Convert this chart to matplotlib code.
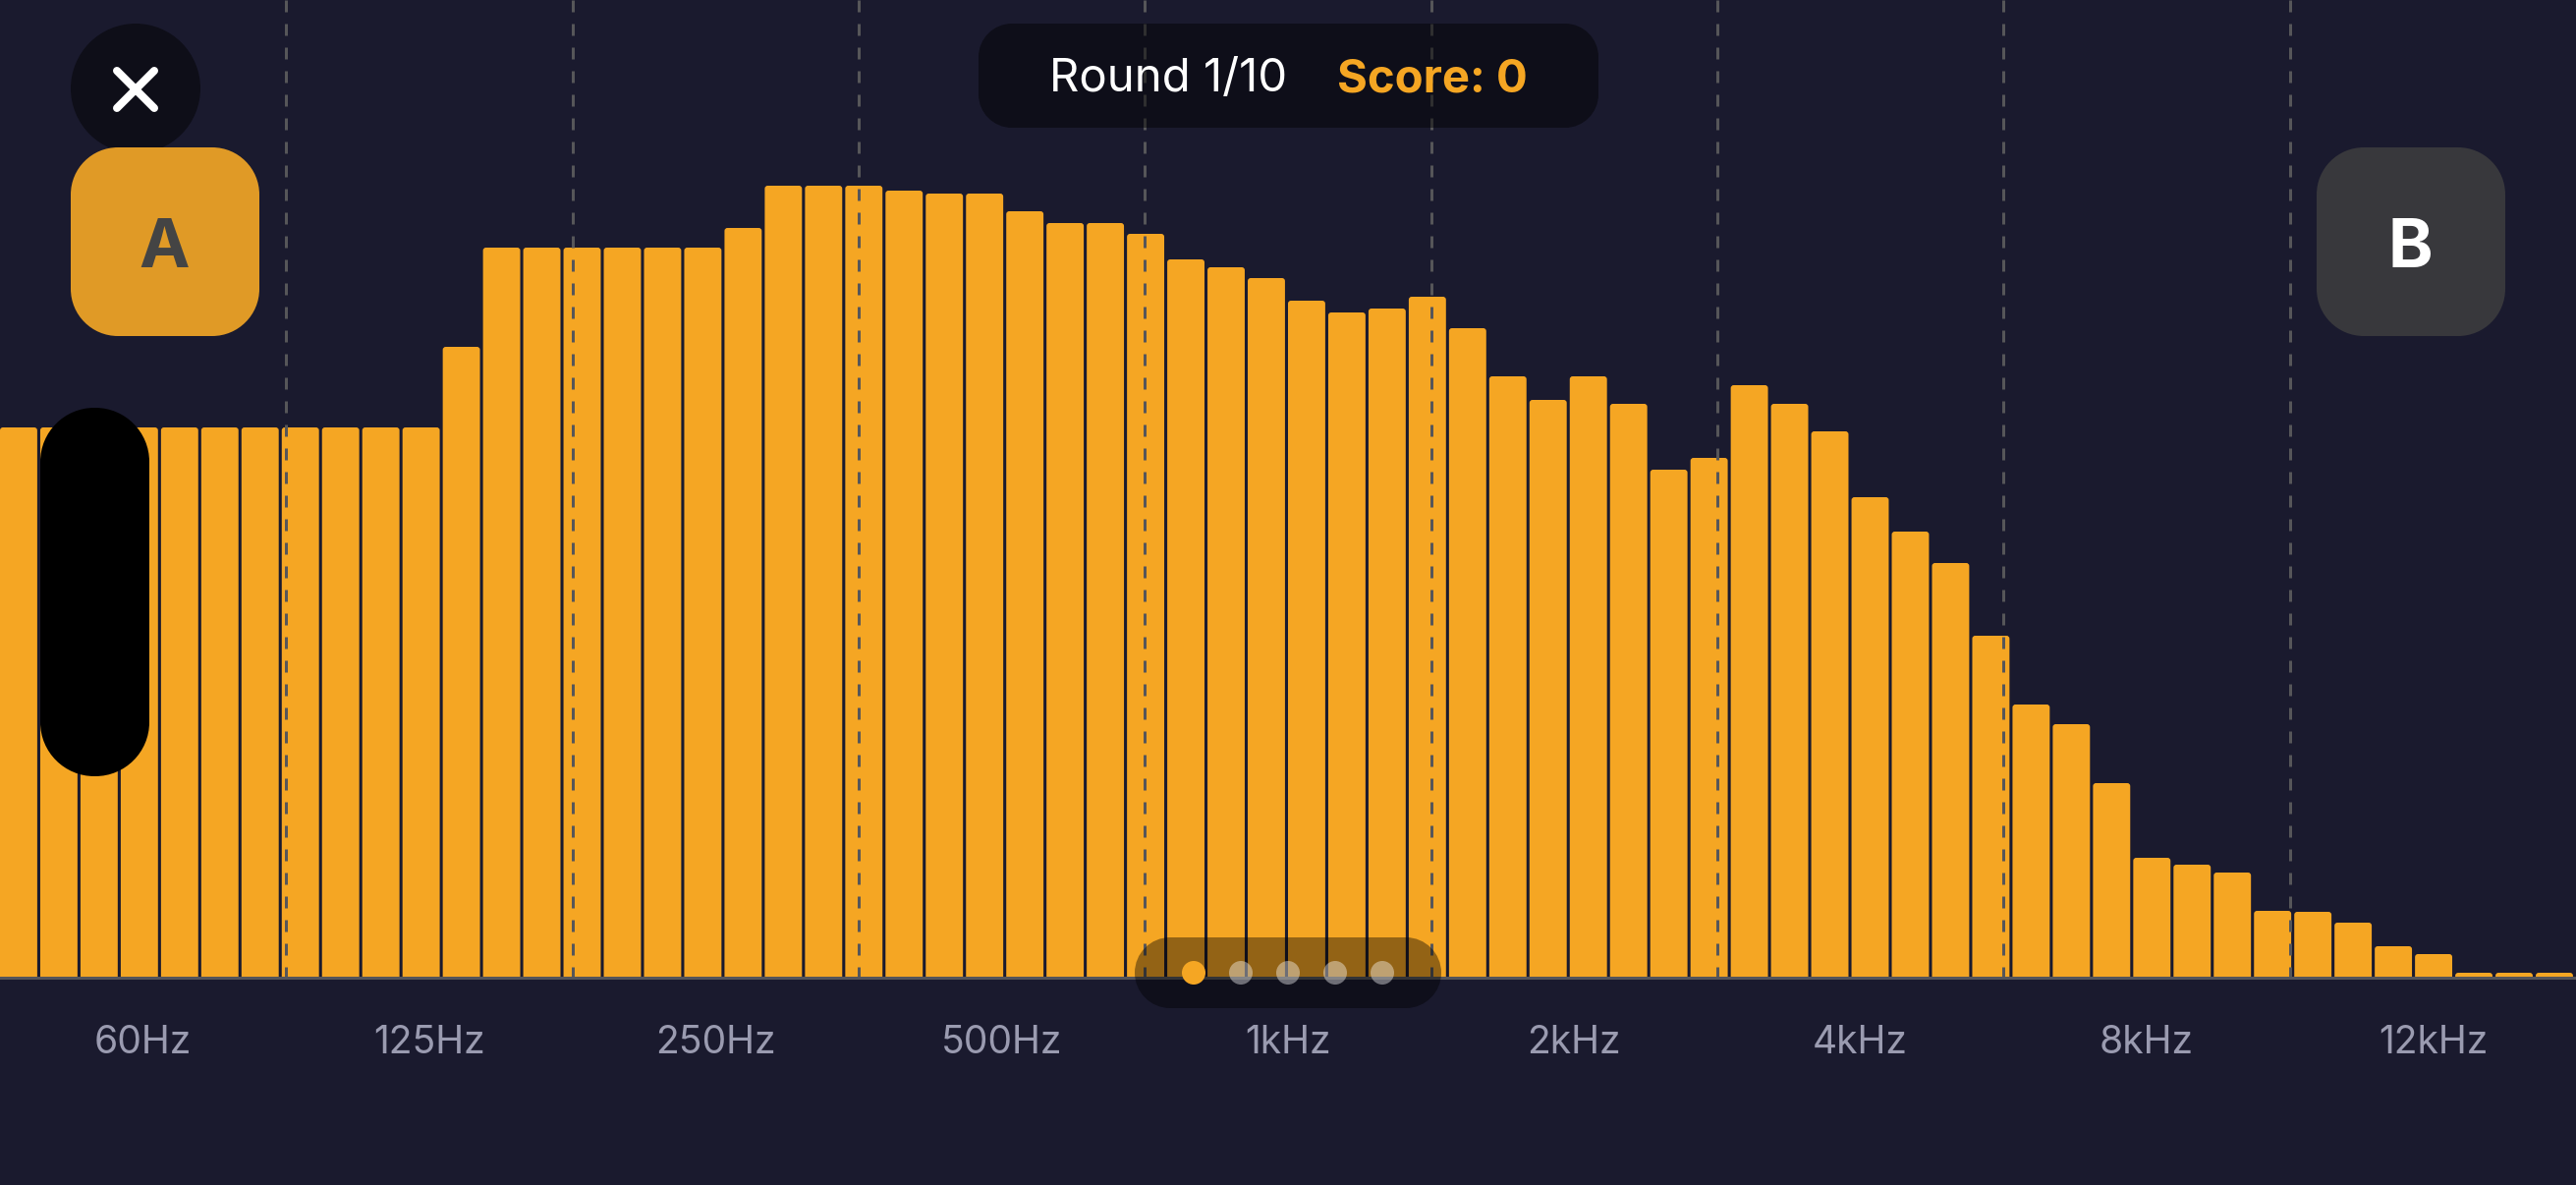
import matplotlib
matplotlib.use("Agg")
import matplotlib.pyplot as plt
from matplotlib.patches import FancyBboxPatch, Circle, PathPatch
from matplotlib.path import Path

W, H = 2622, 1206
BG = "#1a1a2e"
ORANGE = "#f5a623"

levels = [560, 560, 560, 560, 560, 560, 560, 560, 560, 560, 560, 642,
          743, 743, 743, 743, 743, 743, 763, 806, 806, 806, 801, 798,
          798, 780, 768, 768, 757, 731, 723, 712, 689, 677, 681, 693,
          661, 612, 588, 612, 584, 517, 529, 603, 584, 556, 489, 454,
          422, 348, 278, 258, 198, 122, 115, 107, 68, 67, 56, 32,
          24, 5, 5, 5]
band_labels = ["60Hz", "125Hz", "250Hz", "500Hz", "1kHz", "2kHz", "4kHz", "8kHz", "12kHz"]
round_text = "Round 1/10"
score_text = "Score: 0"

plt.rcParams["font.family"] = ["Inter", "DejaVu Sans"]
px = 72 / 100

fig = plt.figure(figsize=(W / 100, H / 100), dpi=100, facecolor=BG)
BASE = 995
ax = fig.add_axes([0, (H - BASE) / H, 1, BASE / H], facecolor=BG)
n = len(levels)
ax.set_xlim(0, n)
ax.set_ylim(0, BASE)
for s in ax.spines.values():
    s.set_visible(False)
ax.set_yticks([])

unit = W / n  # pixels per bar slot
for i, v in enumerate(levels):
    ax.add_patch(FancyBboxPatch((i, -8), 0.925, v + 8,
                                boxstyle=f"round,pad=0,rounding_size={3 / unit}",
                                mutation_aspect=unit, fc=ORANGE, ec="none", zorder=2))

nb = len(band_labels)
for i in range(1, nb):
    ax.plot([i * n / nb] * 2, [BASE, 0], color="#565659", lw=3 * px,
            dashes=(4, 4), dash_capstyle="butt", zorder=3)
ax.axhline(0, color="#55555a", lw=3 * px, clip_on=False, zorder=4)

ax.set_xticks([(i + 0.5) * n / nb for i in range(nb)])
ax.set_xticklabels(band_labels, fontsize=39 * px, color="#9a9bb0")
ax.tick_params(axis="x", length=0, pad=48 * px)

# interface overlay in pixel coordinates
ui = fig.add_axes([0, 0, 1, 1], facecolor="none")
ui.set_xlim(0, W)
ui.set_ylim(H, 0)
ui.axis("off")


def rbox(x0, y0, x1, y1, r, **kw):
    k = r * 0.4477
    verts = [(x0 + r, y0), (x1 - r, y0),
             (x1 - k, y0), (x1, y0 + k), (x1, y0 + r),
             (x1, y1 - r),
             (x1, y1 - k), (x1 - k, y1), (x1 - r, y1),
             (x0 + r, y1),
             (x0 + k, y1), (x0, y1 - k), (x0, y1 - r),
             (x0, y0 + r),
             (x0, y0 + k), (x0 + k, y0), (x0 + r, y0),
             (x0 + r, y0)]
    codes = [Path.MOVETO, Path.LINETO,
             Path.CURVE4, Path.CURVE4, Path.CURVE4,
             Path.LINETO,
             Path.CURVE4, Path.CURVE4, Path.CURVE4,
             Path.LINETO,
             Path.CURVE4, Path.CURVE4, Path.CURVE4,
             Path.LINETO,
             Path.CURVE4, Path.CURVE4, Path.CURVE4,
             Path.CLOSEPOLY]
    ui.add_patch(PathPatch(Path(verts, codes), ec="none", **kw))


ui.add_patch(Circle((138, 90), 66, fc="#0e0e18", ec="none", zorder=1))
ui.plot([119, 157], [72, 110], color="white", lw=8 * px, solid_capstyle="round", zorder=2)
ui.plot([119, 157], [110, 72], color="white", lw=8 * px, solid_capstyle="round", zorder=2)

rbox(72, 150, 264, 342, 48, fc="#e09a26", zorder=3)
ui.text(167, 272, "A", fontsize=69 * px, fontweight="bold", color="#444444",
        ha="center", va="baseline", zorder=4)
rbox(2358, 150, 2550, 342, 48, fc="#38383c", zorder=3)
ui.text(2453, 272, "B", fontsize=69 * px, fontweight="bold", color="white",
        ha="center", va="baseline", zorder=4)

rbox(996, 24, 1627, 130, 34, fc="black", alpha=0.45, zorder=1)
ui.text(1068, 93, round_text, fontsize=47.3 * px, color="white", ha="left", va="baseline", zorder=2)
ui.text(1361, 93, score_text, fontsize=47.3 * px, fontweight="bold", color=ORANGE,
        ha="left", va="baseline", zorder=2)

rbox(41, 415, 152, 790, 55, fc="black", zorder=2)

rbox(1155, 954, 1467, 1026, 36, fc="black", alpha=0.4, zorder=1)
for j, cx in enumerate(range(1215, 1408, 48)):
    if j == 0:
        ui.add_patch(Circle((cx, 990), 12, fc=ORANGE, ec="none", zorder=2))
    else:
        ui.add_patch(Circle((cx, 990), 12, fc="white", alpha=0.4, ec="none", zorder=2))

fig.savefig("out.png", dpi=100, facecolor=BG)
